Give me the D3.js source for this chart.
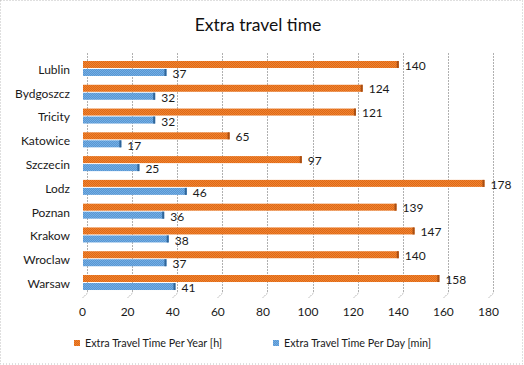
<!DOCTYPE html>
<html><head><meta charset="utf-8">
<script src="https://cdn.jsdelivr.net/npm/d3@7"></script>
<style>
html,body{margin:0;padding:0;background:#fff;}
svg{display:block;font-family:Lato, "Open Sans", sans-serif;}
</style></head>
<body>
<script>
const cities = ["Lublin","Bydgoszcz","Tricity","Katowice","Szczecin","Lodz","Poznan","Krakow","Wroclaw","Warsaw"];
const perYear = [140,124,121,65,97,178,139,147,140,158];
const perDay = [37,32,32,17,25,46,36,38,37,41];
const ticks = [0,20,40,60,80,100,120,140,160,180];
const seriesNames = ["Extra Travel Time Per Year [h]","Extra Travel Time Per Day [min]"];
const darkColors = ["#A84F14","#2F6599"];

const W=524,H=365;
const svg=d3.select("body").append("svg").attr("width",W).attr("height",H);
const defs=svg.append("defs");
function pat(id,base,dot){
  const p=defs.append("pattern").attr("id",id).attr("width",2).attr("height",2).attr("patternUnits","userSpaceOnUse");
  p.append("rect").attr("width",2).attr("height",2).attr("fill",base);
  p.append("rect").attr("width",1).attr("height",1).attr("fill",dot);
  p.append("rect").attr("x",1).attr("y",1).attr("width",1).attr("height",1).attr("fill",dot);
}
pat("pO","#F2822F","#DC6A18");
pat("pB","#5896D2","#74AEE4");

// border
svg.append("rect").attr("x",0.5).attr("y",0.5).attr("width",W-2).attr("height",H-1.5)
  .attr("fill","#fff").attr("stroke","#bfbfbf").attr("stroke-dasharray","1,2");

svg.append("text").attr("x",258).attr("y",31).attr("text-anchor","middle")
  .attr("font-size",17.5).attr("fill","#111").text("Extra travel time");

const x=d3.scaleLinear().domain([0,180]).range([83,489]);
const y=d3.scaleBand().domain(cities).range([56.1,293.9]);
const gridTop=53, gridBot=293;

// gridlines (back wall + floor)
const g=svg.append("g");
ticks.forEach(t=>{
  const gx=Math.round(x(t)+4)+0.5;
  g.append("line").attr("x1",gx).attr("x2",gx).attr("y1",gridTop).attr("y2",gridBot)
    .attr("stroke","#b0b0b0").attr("stroke-dasharray","2,1");
  g.append("line").attr("x1",gx).attr("x2",gx-5).attr("y1",gridBot).attr("y2",gridBot+5)
    .attr("stroke","#b0b0b0").attr("stroke-dasharray","2,1");
});

// axis tick labels
const axis=d3.axisBottom(x).tickValues(ticks).tickSize(0).tickPadding(0);
const ax=svg.append("g").attr("transform","translate(-1,308)").call(axis);
ax.select(".domain").remove();
ax.selectAll("text").attr("font-size",12).attr("fill","#1a1a1a").attr("font-family","Lato, sans-serif").attr("dy","0.7em");

// category labels
const ay=d3.axisLeft(y).tickSize(0).tickPadding(0);
const ayg=svg.append("g").attr("transform","translate(70,2)").call(ay);
ayg.select(".domain").remove();
ayg.selectAll("text").attr("font-size",12).attr("fill","#1a1a1a").attr("font-family","Lato, sans-serif");

const bh=7;
function bars(vals,idx){
  const gg=svg.append("g");
  cities.forEach((c,i)=>{
    const cy=y(c)+y.bandwidth()/2;
    const top= idx===0 ? cy-7 : cy+1;
    gg.append("rect").attr("x",x(0)).attr("y",top).attr("width",x(vals[i])-x(0)).attr("height",bh)
      .attr("fill",idx===0?"url(#pO)":"url(#pB)");
    gg.append("rect").attr("x",x(vals[i])-2).attr("y",top).attr("width",2).attr("height",bh)
      .attr("fill",darkColors[idx]);
    gg.append("text").attr("x",x(vals[i])+6).attr("y",top+bh/2+ (idx===0?1:1.5)).attr("dy","0.35em")
      .attr("font-size",12).attr("fill","#1a1a1a").text(vals[i]);
  });
}
bars(perYear,0);
bars(perDay,1);

// legend
const leg=svg.append("g");
const lx=[74,273];
seriesNames.forEach((n,i)=>{
  leg.append("rect").attr("x",lx[i]).attr("y",340).attr("width",6).attr("height",6).attr("fill",i===0?"url(#pO)":"url(#pB)");
  leg.append("text").attr("x",lx[i]+11).attr("y",343).attr("dy","0.35em").attr("font-size",10.8).attr("fill","#1a1a1a").text(n);
});
</script>
</body></html>
